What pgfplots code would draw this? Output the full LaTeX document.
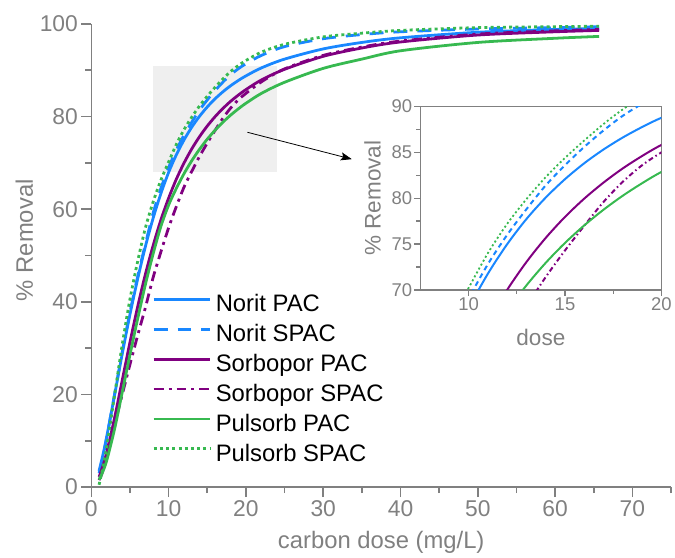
\documentclass[border=0pt]{standalone}
\usepackage{pgfplots}
\pgfplotsset{compat=1.18}
\usepackage{pgfplotstable}
\usepackage{fontspec}
\setmainfont{Liberation Sans}
\usetikzlibrary{arrows.meta}

\definecolor{cblue}{RGB}{25,135,255}
\definecolor{cpurple}{RGB}{128,0,128}
\definecolor{cgreen}{RGB}{55,185,80}
\definecolor{axgray}{RGB}{128,128,128}
\definecolor{rectgray}{RGB}{239,239,239}

\pgfplotstableread{
x     np    ns    sp    ss    pp    ps
1     3.5   3.0   2.2   1.5   1.6   0.5
1.5   7.0   6.5   4.6   3.5   3.4   4.3
2     11.0  10.8  7.6   6.5   5.8   8.8
3     19.8  20.0  14.9  13.5  12.5  19.8
4     28.8  29.2  23.1  20.0  20.5  30.8
5     37.3  37.8  31.3  26.5  28.6  40.6
6     45.0  45.5  39.0  32.8  36.4  48.8
7     52.0  52.5  46.0  38.8  43.8  56.0
8     58.1  59.2  52.2  45.3  50.4  61.6
9     63.4  64.5  57.7  50.8  56.3  66.3
10    67.95 69.0  62.4  56.0  60.9  70.2
11    71.76 72.8  66.5  60.6  64.5  74.0
12    74.98 76.0  70.0  64.8  67.70 77.2
13    77.73 78.8  73.04 68.2  70.49 79.9
14    80.07 81.4  75.67 71.4  72.95 82.3
15    82.08 83.6  77.96 74.3  75.12 84.4
16    83.82 85.6  79.96 77.0  77.04 86.3
17    85.32 87.4  81.71 79.6  78.75 88.1
18    86.63 89.0  83.26 81.8  80.28 89.7
19    87.77 90.3  84.61 83.6  81.64 91.0
20    88.78 91.4  85.82 85.0  82.87 92.1
22    90.5  93.2  87.9  87.5  85.0  93.9
25    92.4  95.1  90.2  90.3  87.4  95.6
30    94.6  96.8  93.0  93.2  90.4  97.2
35    96.0  97.7  94.8  95.0  92.4  98.0
40    97.0  98.3  96.1  96.3  94.2  98.6
50    98.2  98.9  97.6  97.8  96.0  99.2
60    98.8  99.2  98.3  98.5  96.9  99.4
65.7  99.0  99.4  98.6  98.8  97.3  99.5
}\data

\begin{document}
\begin{tikzpicture}
\path (0bp,0bp) rectangle (675bp,-558bp);
\begin{axis}[
  at={(91.7bp,-489bp)}, anchor=south west,
  scale only axis, width=582bp, height=465bp,
  xmin=0, xmax=75, ymin=0, ymax=100,
  axis lines*=left,
  axis line style={axgray, line width=1.6bp},
  tick style={axgray, line width=1.6bp},
  tick align=outside,
  major tick length=10bp, minor tick length=6bp,
  xtick={0,10,...,70}, minor xtick={5,15,...,75},
  ytick={0,20,...,100}, minor ytick={10,30,...,90},
  /pgf/number format/assume math mode=true,
  ticklabel style={font=\fontsize{23}{23}\selectfont, text=axgray},
  xlabel={carbon dose (mg/L)},
  ylabel={\% Removal},
  xlabel style={font=\fontsize{24}{24}\selectfont, text=axgray, at={(axis description cs:0.5,0)}, anchor=base, yshift=-62bp},
  ylabel style={font=\fontsize{24}{24}\selectfont, text=axgray, at={(axis description cs:-0.1009,0.533)}, anchor=base},
  legend style={draw=none, fill=none, inner sep=0pt, at={(axis cs:7.85,42.5)}, anchor=north west,
    font=\fontsize{24}{24}\selectfont, text=black, column sep=3bp,
    nodes={inner xsep=1bp, inner ysep=3.75bp, text height=17.5bp, text depth=5bp, text=black}},
  legend cell align=left,
  legend image code/.code={\draw[line width=2.8bp, #1] (0bp,6bp) -- (57bp,6bp);},
]
\fill[rectgray] (axis cs:8,68) rectangle (axis cs:24,91);
\addplot[draw=cblue, line width=2.8bp, solid, smooth] table[x=x,y=np]{\data};
\addlegendentry{Norit PAC}
\addplot[draw=cblue, line width=2.8bp, dash pattern=on 14bp off 10bp, smooth] table[x=x,y=ns]{\data};
\addlegendentry{Norit SPAC}
\addplot[draw=cpurple, line width=2.8bp, solid, smooth] table[x=x,y=sp]{\data};
\addlegendentry{Sorbopor PAC}
\addplot[draw=cpurple, line width=2.8bp, dash pattern=on 10bp off 13bp, smooth,
  legend image code/.code={
    \draw[cpurple, line width=2.8bp, dash pattern=on 10bp off 13bp] (0bp,6bp) -- (57bp,6bp);
    \draw[cpurple, line width=2.8bp, dash pattern=on 3bp off 20bp, dash phase=8bp] (0bp,6bp) -- (57bp,6bp);}
  ] table[x=x,y=ss]{\data};
\addlegendentry{Sorbopor SPAC}
\addplot[draw=cpurple, line width=2.8bp, dash pattern=on 3bp off 20bp, dash phase=8bp, smooth, forget plot] table[x=x,y=ss]{\data};
\addplot[draw=cgreen, line width=2.8bp, solid, smooth] table[x=x,y=pp]{\data};
\addlegendentry{Pulsorb PAC}
\addplot[draw=cgreen, line width=2.8bp, dash pattern=on 3bp off 3.25bp, smooth] table[x=x,y=ps]{\data};
\addlegendentry{Pulsorb SPAC}
\draw[-{Stealth[length=11bp, width=8bp, inset=2bp]}, line width=0.8bp, black] (axis cs:20.2,76.6) -- (axis cs:33.7,70.8);
\end{axis}

\begin{axis}[
  at={(422bp,-291bp)}, anchor=south west,
  scale only axis, width=242bp, height=184bp,
  xmin=7.5, xmax=20, ymin=70, ymax=90,
  axis line style={axgray, line width=1.6bp},
  tick style={axgray, line width=1.3bp},
  tick align=outside,
  xtick pos=bottom, ytick pos=left,
  major tick length=6bp, minor tick length=4bp,
  xtick={10,15,20}, minor xtick={12.5,17.5},
  ytick={70,75,...,90}, minor ytick={72.5,77.5,82.5,87.5},
  /pgf/number format/assume math mode=true,
  ticklabel style={font=\fontsize{18.6}{18.6}\selectfont, text=axgray},
  xticklabel style={inner ysep=2bp},
  yticklabel style={inner xsep=2bp},
  xlabel={dose},
  ylabel={\% Removal},
  xlabel style={font=\fontsize{22.7}{22.7}\selectfont, text=axgray, at={(axis description cs:0.5,0)}, anchor=base, yshift=-56bp},
  ylabel style={font=\fontsize{22.7}{22.7}\selectfont, text=axgray, at={(axis description cs:-0.1653,0.5)}, anchor=base},
]
\addplot[draw=cblue, line width=2bp, solid, smooth] table[x=x,y=np]{\data};
\addplot[draw=cblue, line width=2bp, dash pattern=on 5bp off 4bp, smooth] table[x=x,y=ns]{\data};
\addplot[draw=cpurple, line width=2bp, solid, smooth] table[x=x,y=sp]{\data};
\addplot[draw=cpurple, line width=2bp, dash pattern=on 5bp off 7.5bp, smooth] table[x=x,y=ss]{\data};
\addplot[draw=cpurple, line width=2bp, dash pattern=on 1.5bp off 11bp, dash phase=4.5bp, smooth] table[x=x,y=ss]{\data};
\addplot[draw=cgreen, line width=2bp, solid, smooth] table[x=x,y=pp]{\data};
\addplot[draw=cgreen, line width=1.8bp, dash pattern=on 2bp off 2.5bp, smooth] table[x=x,y=ps]{\data};
\end{axis}
\end{tikzpicture}
\end{document}
